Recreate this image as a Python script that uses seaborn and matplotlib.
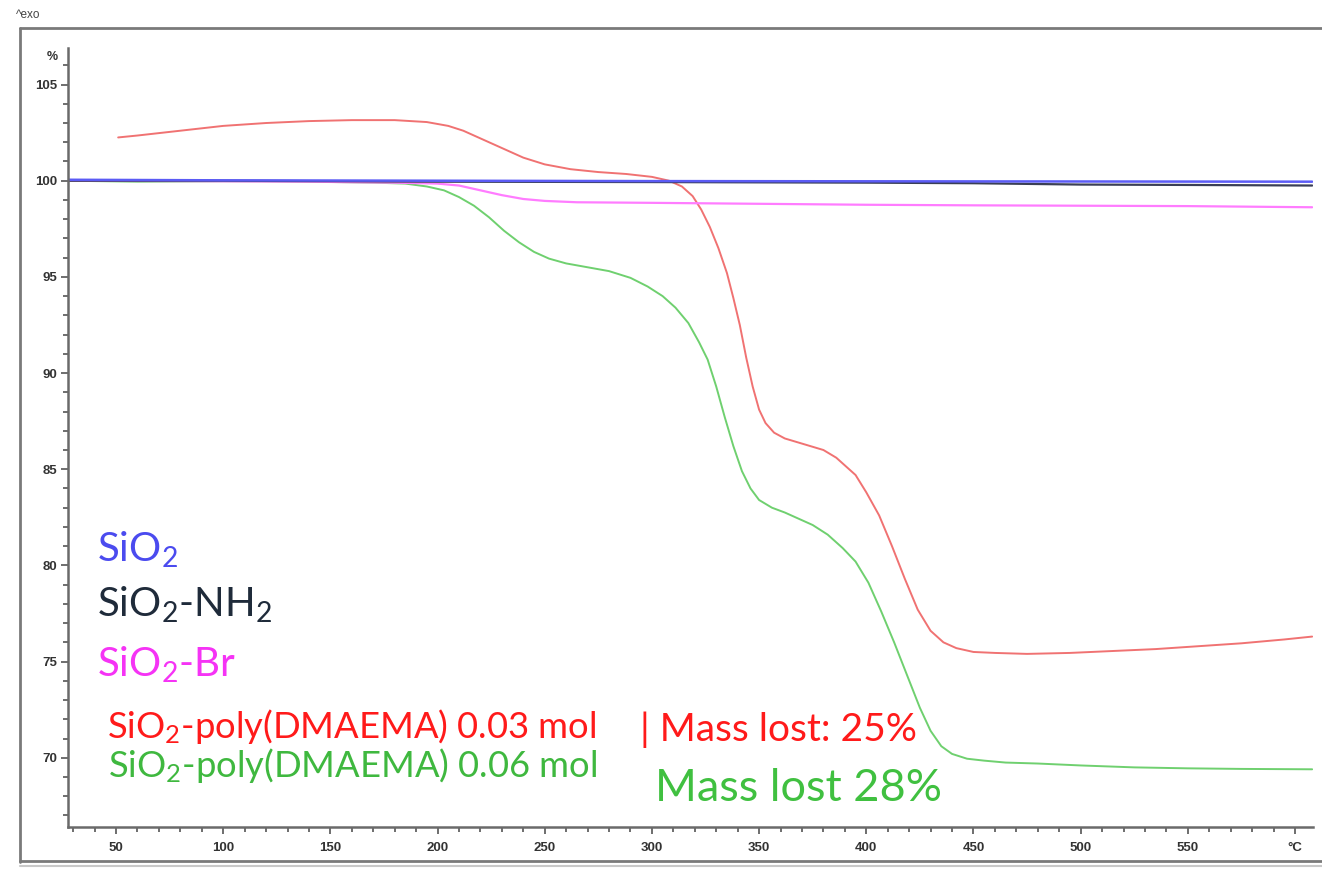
import numpy as np
import pandas as pd
import matplotlib
matplotlib.use("Agg")
import matplotlib.pyplot as plt
from matplotlib.lines import Line2D
from matplotlib.ticker import MultipleLocator, FixedLocator, FixedFormatter
import seaborn as sns

# ---- TGA curves: temperature (°C) vs residual mass (%) ----
t_sio2 = [27.6, 100, 200, 300, 400, 500, 608]
m_sio2 = [100.05, 100.02, 100.0, 99.98, 99.97, 99.96, 99.95]

t_nh2 = [27.6, 100, 200, 300, 400, 450, 500, 550, 608]
m_nh2 = [100.0, 100.0, 99.95, 99.93, 99.9, 99.87, 99.8, 99.78, 99.75]

t_br = [27.6, 80, 140, 180, 200, 210, 220, 230, 240, 250, 265, 300, 350, 400,
        450, 500, 550, 608]
m_br = [100.0, 99.98, 99.95, 99.9, 99.85, 99.75, 99.5, 99.25, 99.05, 98.95,
        98.88, 98.85, 98.8, 98.75, 98.72, 98.7, 98.68, 98.62]

t_p003 = [51, 60, 80, 100, 120, 140, 160, 180, 195, 205, 212, 220, 230, 240,
          250, 262, 275, 288, 300, 308, 314, 319, 323, 327, 331, 335, 338, 341,
          344, 347, 350, 353, 357, 362, 368, 374, 380, 386, 391, 395, 400, 406,
          412, 418, 424, 430, 436, 442, 450, 460, 475, 495, 515, 535, 555, 575,
          595, 608]
m_p003 = [102.25, 102.35, 102.6, 102.85, 103.0, 103.1, 103.15, 103.15, 103.05,
          102.85, 102.6, 102.2, 101.7, 101.2, 100.85, 100.6, 100.45, 100.35,
          100.2, 100.0, 99.7, 99.2, 98.5, 97.6, 96.5, 95.2, 93.9, 92.5, 90.8,
          89.3, 88.1, 87.4, 86.9, 86.6, 86.4, 86.2, 86.0, 85.6, 85.1, 84.7,
          83.8, 82.6, 81.0, 79.3, 77.7, 76.6, 76.0, 75.7, 75.5, 75.45, 75.4,
          75.45, 75.55, 75.65, 75.8, 75.95, 76.15, 76.3]

t_p006 = [27.6, 60, 100, 140, 170, 185, 195, 203, 210, 217, 224, 231, 238, 245,
          252, 260, 270, 280, 290, 298, 305, 311, 317, 322, 326, 330, 334, 338,
          342, 346, 350, 356, 362, 368, 375, 382, 389, 395, 401, 407, 413, 419,
          425, 430, 435, 440, 447, 455, 465, 480, 500, 525, 550, 575, 608]
m_p006 = [100.0, 99.95, 99.97, 99.95, 99.9, 99.85, 99.7, 99.5, 99.15, 98.7,
          98.1, 97.4, 96.8, 96.3, 95.95, 95.7, 95.5, 95.3, 94.95, 94.5, 94.0,
          93.4, 92.6, 91.6, 90.7, 89.3, 87.7, 86.2, 84.9, 84.0, 83.4, 83.0,
          82.75, 82.45, 82.1, 81.6, 80.9, 80.2, 79.1, 77.6, 76.0, 74.3, 72.6,
          71.4, 70.6, 70.2, 69.95, 69.85, 69.75, 69.7, 69.6, 69.5, 69.45,
          69.42, 69.4]

x_major = [50, 100, 150, 200, 250, 300, 350, 400, 450, 500, 550, 600]
x_labels = ["50", "100", "150", "200", "250", "300", "350", "400", "450",
            "500", "550", "°C"]

# ---- style ----
sns.set_theme(style="white")
plt.rcParams["font.family"] = ["Lato", "DejaVu Sans"]
plt.rcParams["mathtext.fontset"] = "custom"
plt.rcParams["mathtext.rm"] = "Lato"
plt.rcParams["mathtext.it"] = "Lato:italic"
plt.rcParams["mathtext.bf"] = "Lato:bold"

W, H = 1322, 872
fig = plt.figure(figsize=(W / 100, H / 100), dpi=100)
fig.patch.set_facecolor("white")


def fx(px):
    return px / W


def fy(py):
    return 1 - py / H


ax = fig.add_axes([fx(68), fy(827), fx(1313) - fx(68), fy(48) - fy(827)])
ax.set_facecolor("white")

series = [
    ("SiO2-poly(DMAEMA) 0.06 mol", t_p006, m_p006, "#6fd06f", 1.4),
    ("SiO2-poly(DMAEMA) 0.03 mol", t_p003, m_p003, "#f07272", 1.4),
    ("SiO2-Br", t_br, m_br, "#ff7cff", 1.6),
    ("SiO2-NH2", t_nh2, m_nh2, "#3a3f55", 1.6),
    ("SiO2", t_sio2, m_sio2, "#5b5bf5", 1.8),
]
for name, t, m, col, lw in series:
    df = pd.DataFrame({"T": t, "mass": m})
    sns.lineplot(data=df, x="T", y="mass", color=col, linewidth=lw,
                 sort=False, estimator=None, ax=ax)

ax.set_xlim(27.6, 608.4)
ax.set_ylim(66.4, 106.9)
ax.set_xlabel("")
ax.set_ylabel("")

for side in ("top", "right"):
    ax.spines[side].set_visible(False)
for side in ("left", "bottom"):
    ax.spines[side].set_color("#6a6a6a")
    ax.spines[side].set_linewidth(1.8)

ax.xaxis.set_major_locator(FixedLocator(x_major))
ax.xaxis.set_major_formatter(FixedFormatter(x_labels))
ax.xaxis.set_minor_locator(MultipleLocator(10))
ax.yaxis.set_major_locator(MultipleLocator(5))
ax.yaxis.set_minor_locator(MultipleLocator(1))

ax.tick_params(axis="both", which="major", direction="out", length=5,
               width=1.2, color="#555555", labelsize=9.5, labelcolor="#333333")
ax.tick_params(axis="both", which="minor", direction="out", length=3.5,
               width=1.2, color="#555555")
ax.tick_params(axis="x", which="major", pad=6)
ax.tick_params(axis="y", which="major", pad=3)
ax.tick_params(bottom=True, left=True, which="both")
for lab in ax.get_xticklabels() + ax.get_yticklabels():
    lab.set_family(["Liberation Sans", "DejaVu Sans"])
    lab.set_fontweight("bold")

# axis unit labels
fig.text(fx(58), fy(57), "%", ha="right", va="center", fontsize=9,
         color="#333333", family=["Liberation Sans", "DejaVu Sans"],
         fontweight="bold")
fig.text(fx(16), fy(15), "^exo", ha="left", va="center", fontsize=8.5,
         color="#444444", family=["Liberation Sans", "DejaVu Sans"])

# outer frame of the report window
frame_kw = dict(transform=fig.transFigure, color="#7a7a7a", linewidth=2.0)
fig.add_artist(Line2D([fx(20), fx(20)], [fy(28), fy(862)], **frame_kw))
fig.add_artist(Line2D([fx(20), fx(W)], [fy(28), fy(28)], **frame_kw))
fig.add_artist(Line2D([fx(20), fx(W)], [fy(861), fy(861)], **frame_kw))
fig.add_artist(Line2D([fx(20), fx(W)], [fy(866), fy(866)],
                      transform=fig.transFigure, color="#c8c8c8",
                      linewidth=1.5))

# sample labels
labels = [
    (97, 562, r"SiO$_2$", "#4b4bef", 29),
    (97, 617, r"SiO$_2$-NH$_2$", "#1f2b3a", 29),
    (97, 677, r"SiO$_2$-Br", "#f533f5", 29),
    (107, 738, r"SiO$_2$-poly(DMAEMA) 0.03 mol", "#ff1a1a", 26.2),
    (108, 777, r"SiO$_2$-poly(DMAEMA) 0.06 mol", "#3fb83f", 26.2),
    (640, 741, "| Mass lost: 25%", "#ff1a1a", 28),
    (655, 801, "Mass lost 28%", "#40c040", 32.5),
]
for px, py, s, col, fs in labels:
    fig.text(fx(px), fy(py), s, ha="left", va="baseline", color=col,
             fontsize=fs)

fig.savefig("out.png", dpi=100, facecolor="white")
